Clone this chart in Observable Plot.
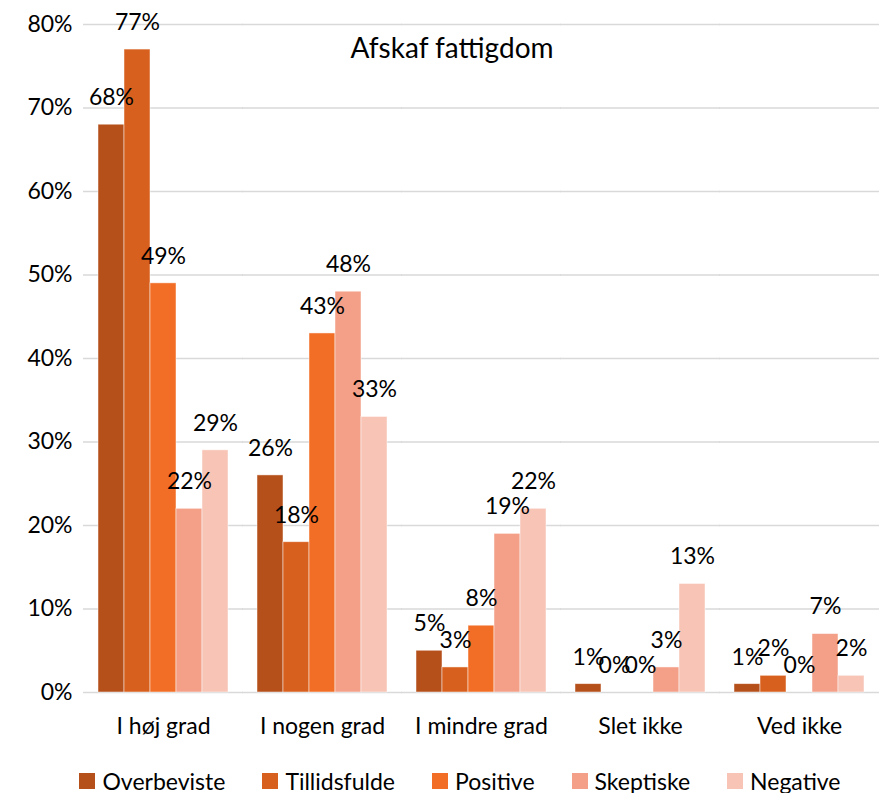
<!DOCTYPE html>
<html>
<head>
<meta charset="utf-8">
<script src="https://cdn.jsdelivr.net/npm/d3@7"></script>
<script src="https://cdn.jsdelivr.net/npm/@observablehq/plot@0.6"></script>
<style>
  body { margin: 0; background: #fff; font-family: Lato, "Open Sans", sans-serif; }
  #wrap { position: relative; width: 879px; }
  #title { position: absolute; top: 30px; left: 452px; transform: translateX(-50%); font-size: 28px; line-height: 34px; color: #000; white-space: nowrap; }
  #legend { display: flex; justify-content: center; padding-left: 41px; gap: 37px; font-size: 23px; color: #000; height: 41px; margin-top: 8px; align-items: center; }
  .item { display: flex; align-items: center; gap: 7px; }
  .sw { width: 16px; height: 16px; display: inline-block; }
</style>
</head>
<body>
<div id="wrap">
  <div id="chart"></div>
  <div id="title">Afskaf fattigdom</div>
  <div id="legend"></div>
</div>
<script>
const categories = ["I høj grad", "I nogen grad", "I mindre grad", "Slet ikke", "Ved ikke"];
const series = ["Overbeviste", "Tillidsfulde", "Positive", "Skeptiske", "Negative"];
const colors = ["#B5501A", "#D8601E", "#F26D25", "#F4A088", "#F8C4B6"];
const overbeviste = [68, 26, 5, 1, 1];
const tillidsfulde = [77, 18, 3, 0, 2];
const positive = [49, 43, 8, 0, 0];
const skeptiske = [22, 48, 19, 3, 7];
const negative = [29, 33, 22, 13, 2];
const yTicks = [0, 10, 20, 30, 40, 50, 60, 70, 80];

const values = [overbeviste, tillidsfulde, positive, skeptiske, negative];
const data = [];
categories.forEach((c, ci) => {
  series.forEach((s, si) => {
    data.push({ category: c, series: s, value: values[si][ci] });
  });
});

const chart = Plot.plot({
  width: 879,
  height: 752,
  marginLeft: 83,
  marginRight: 0,
  marginTop: 24,
  marginBottom: 60,
  style: { fontFamily: "Lato, 'Open Sans', sans-serif", fontSize: "23px", color: "#000", background: "#fff" },
  fx: { domain: categories, paddingInner: 0.17, paddingOuter: 0.085, axis: "bottom", tickSize: 0, tickPadding: 25, label: null },
  x: { domain: series, padding: 0, axis: null },
  y: { domain: [0, 80], ticks: yTicks, tickFormat: d => d + "%", tickSize: 0, tickPadding: 25, label: null },
  color: { domain: series, range: colors },
  marks: [
    Plot.ruleY(yTicks, { stroke: "#d9d9d9", strokeWidth: 1.5, insetLeft: -14, insetRight: -14 }),
    Plot.barY(data, { fx: "category", x: "series", y: "value", fill: "series", stroke: "#ffffff", strokeWidth: 0.8, strokeOpacity: 0.6 }),
    Plot.text(data, { fx: "category", x: "series", y: "value", text: d => d.value + "%", dy: -27, fill: "#000" })
  ]
});
document.getElementById("chart").appendChild(chart);

const legend = document.getElementById("legend");
series.forEach((s, i) => {
  const item = document.createElement("div");
  item.className = "item";
  const sw = document.createElement("span");
  sw.className = "sw";
  sw.style.background = colors[i];
  const t = document.createElement("span");
  t.textContent = s;
  item.appendChild(sw);
  item.appendChild(t);
  legend.appendChild(item);
});
</script>
</body>
</html>
